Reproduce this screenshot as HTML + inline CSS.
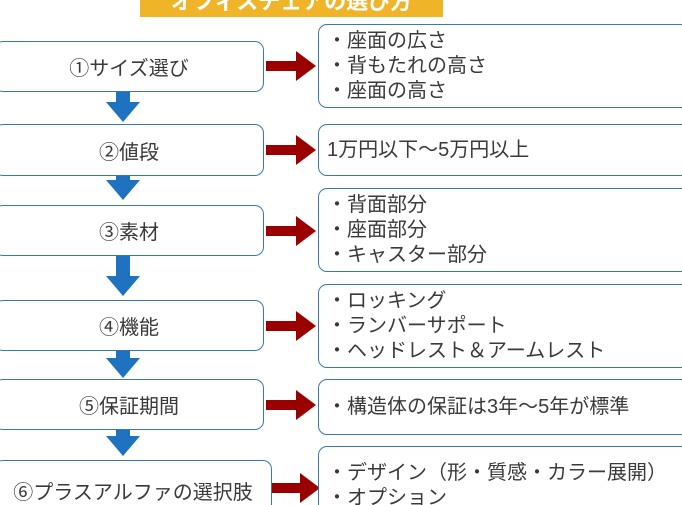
<!DOCTYPE html>
<html style="width:682px;height:505px;overflow:hidden"><head><meta charset="utf-8"><style>
body{margin:0;width:682px;height:505px;overflow:hidden;background:#fff;position:relative;font-family:"Liberation Sans","Noto Sans CJK JP",sans-serif;color:#3a3a3a}
.t{position:absolute;left:140px;top:-10px;width:303px;height:27px;background:#f0b429;color:#fff;font-weight:bold;font-size:22px;line-height:24px;text-align:center;overflow:hidden}
.l,.r{position:absolute;box-sizing:border-box;border:1.5px solid #3a78b5;border-radius:9px;background:#fff;font-size:20px;overflow:hidden}
.l{left:-6px;width:270px;display:flex;align-items:center;justify-content:center}
.r{left:318px;width:380px;padding-left:8px;display:flex;flex-direction:column;justify-content:center;line-height:25px;white-space:nowrap}
svg{position:absolute;left:0;top:0}
</style></head><body>
<div class="t">オフィスチェアの選び方</div>
<svg width="682" height="505">
<g fill="#1f72c0">
<path d="M116,92h14v10h10l-17,20l-17,-20h10z"/>
<path d="M116,176h14v4h10l-17,20l-17,-20h10z"/>
<path d="M116,256h14v20h10l-17,20l-17,-20h10z"/>
<path d="M116,351h14v7h10l-17,20l-17,-20h10z"/>
<path d="M116,430h14v6h10l-17,20l-17,-20h10z"/>
</g>
<g fill="#9b0000">
<path d="M266,61h30v-10l20,15l-20,15v-10h-30z"/>
<path d="M266,145h30v-10l20,15l-20,15v-10h-30z"/>
<path d="M266,226h30v-10l20,15l-20,15v-10h-30z"/>
<path d="M266,321h30v-10l20,15l-20,15v-10h-30z"/>
<path d="M266,400h30v-10l20,15l-20,15v-10h-30z"/>
<path d="M270,483h30v-10l20,15l-20,15v-10h-30z"/>
</g>
</svg>
<div class="l" style="top:41px;height:51px">①サイズ選び</div>
<div class="l" style="top:124px;height:52px">②値段</div>
<div class="l" style="top:205px;height:51px">③素材</div>
<div class="l" style="top:300px;height:51px">④機能</div>
<div class="l" style="top:379px;height:51px">⑤保証期間</div>
<div class="l" style="top:460px;height:45px;width:278px;border-bottom:none;border-radius:9px 9px 0 0;align-items:flex-start;padding-top:15px">⑥プラスアルファの選択肢</div>
<div class="r" style="top:24px;height:84px"><div>・座面の広さ</div><div>・背もたれの高さ</div><div>・座面の高さ</div></div>
<div class="r" style="top:124px;height:52px;padding-left:8px"><div>1万円以下～5万円以上</div></div>
<div class="r" style="top:188px;height:84px"><div>・背面部分</div><div>・座面部分</div><div>・キャスター部分</div></div>
<div class="r" style="top:284px;height:84px"><div>・ロッキング</div><div>・ランバーサポート</div><div>・ヘッドレスト＆アームレスト</div></div>
<div class="r" style="top:379px;height:56px"><div>・構造体の保証は3年～5年が標準</div></div>
<div class="r" style="top:446px;height:59px;border-bottom:none;border-radius:9px 9px 0 0;justify-content:flex-start;padding-top:14px"><div>・デザイン（形・質感・カラー展開）</div><div>・オプション</div></div>
</body></html>
